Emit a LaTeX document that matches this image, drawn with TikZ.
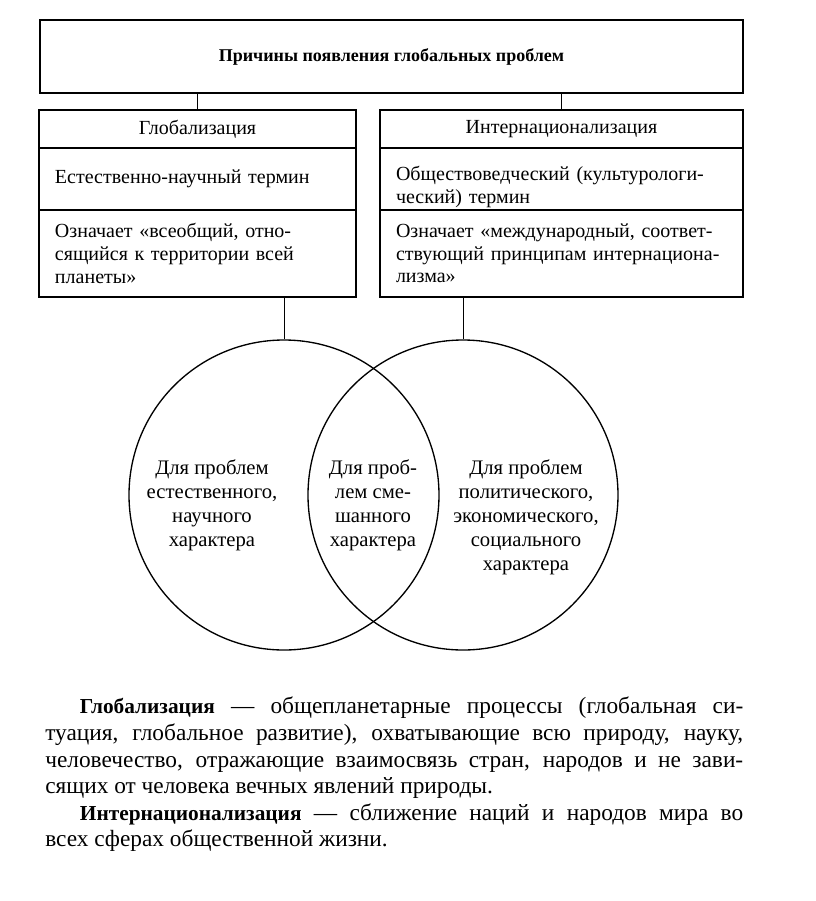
\documentclass[tikz,border=0pt]{standalone}
\usepackage{fontspec}
\setmainfont{Liberation Serif}
\usepackage{tikz}
\usetikzlibrary{positioning}
\newcommand{\term}[1]{{\fontsize{16}{19.9}\selectfont\bfseries #1}}

\begin{document}
\begin{tikzpicture}[x=0.75pt, y=-0.75pt,
  cell/.style={draw, line width=1.1pt, rectangle, anchor=north west, outer sep=0pt, inner xsep=12pt, inner ysep=0pt, font=\fontsize{15}{17}\selectfont},
  ring/.style={draw, line width=1pt, circle, minimum size=232.5pt, inner sep=0pt},
  lbl/.style={align=center, inner sep=0pt, font=\fontsize{15.5}{18}\selectfont},
  link/.style={line width=0.7pt}]
  \useasboundingbox (0,0) rectangle (816,901);

  \node[cell, minimum width=527.25pt, minimum height=54.75pt, font=\bfseries\fontsize{13.5}{16}\selectfont] (top) at (40,20) {Причины появления глобальных проблем};

  \node[cell, minimum width=237.75pt, minimum height=28.5pt] (gtitle) at (39,110) {Глобализация};
  \node[cell, minimum width=237.75pt, minimum height=46.5pt, text width=213.75pt, align=left, below=0pt of gtitle] (gterm) {Естественно-научный термин};
  \node[cell, minimum width=237.75pt, minimum height=65.25pt, text width=213.75pt, align=left, below=0pt of gterm] (gmean) {Означает «всеобщий, отно-\\сящийся к территории всей\\планеты»};

  \node[cell, minimum width=272.25pt, minimum height=28.5pt] (ititle) at (380,110) {Интернационализация};
  \node[cell, minimum width=272.25pt, minimum height=46.5pt, text width=248.25pt, align=left, below=0pt of ititle] (iterm) {\rule{0pt}{23pt}Обществоведческий (культурологи-\\ческий) термин};
  \node[cell, minimum width=272.25pt, minimum height=65.25pt, text width=248.25pt, align=left, below=0pt of iterm] (imean) {Означает «международный, соответ-\\ствующий принципам интернациона-\\лизма»};

  \node[ring] (gcirc) at (284,495) {};
  \node[ring] (icirc) at (463,495) {};
  \node[lbl] (gtext) at (212,505) {Для проблем\\естественного,\\научного\\характера};
  \node[lbl] (mtext) at (373,505) {Для проб-\\лем сме-\\шанного\\характера};
  \node[lbl] (itext) at (526,517) {Для проблем\\политического,\\экономического,\\социального\\характера};

  \draw[link] (top.south -| gtitle.north) -- (gtitle.north);
  \draw[link] (top.south -| ititle.north) -- (ititle.north);
  \draw[link] (gmean.south -| gcirc.north) -- (gcirc.north);
  \draw[link] (imean.south -| icirc.north) -- (icirc.north);

  \node[anchor=north west, inner sep=0pt, text width=523.5pt, align=justify, font=\fontsize{17.5}{19.9}\selectfont] (note) at (45,697) {\hyphenpenalty=10000 \exhyphenpenalty=10000
    \hspace*{26pt}\term{Глобализация} — общепланетарные процессы (глобальная си-\linebreak туация, глобальное развитие), охватывающие всю природу, науку,\linebreak человечество, отражающие взаимосвязь стран, народов и не зави-\linebreak сящих от человека вечных явлений природы.\par
    \hspace*{26pt}\term{Интернационализация} — сближение наций и народов мира во\linebreak всех сферах общественной жизни.};
\end{tikzpicture}
\end{document}
